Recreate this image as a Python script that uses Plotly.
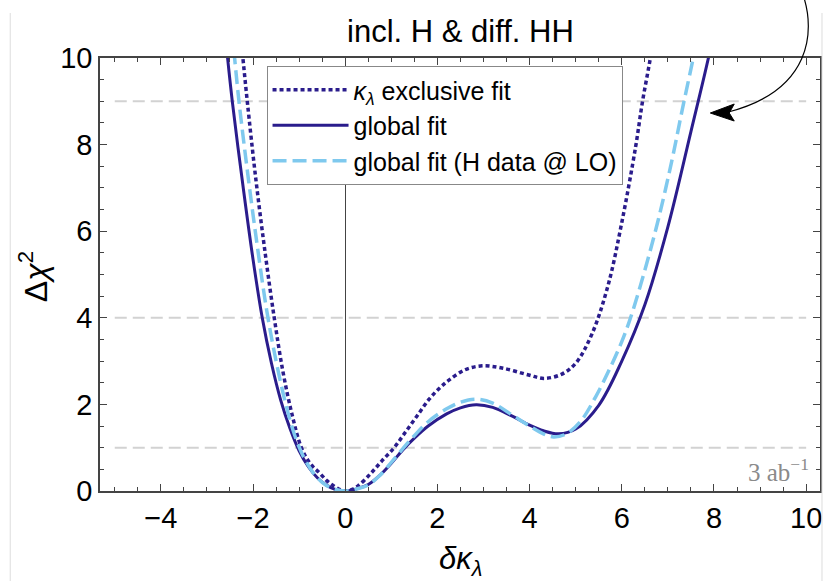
import plotly.graph_objects as go

# ---- data ----
excl_x = [-2.32, -2.22, -2.12, -1.95, -1.75, -1.54, -1.35, -1.15, -0.95, -0.75, -0.56, -0.4, -0.28, -0.15, 0.0,
          0.15, 0.28, 0.55, 0.8, 1.06, 1.3, 1.55, 1.82, 2.05, 2.25, 2.6, 2.97, 3.4, 3.98, 4.31, 4.7, 5.0,
          5.35, 5.7, 6.0, 6.3, 6.45, 6.62, 6.75]
excl_y = [11.1, 10.0, 8.95, 7.3, 5.6, 4.0, 2.75, 1.75, 1.0, 0.62, 0.42, 0.24, 0.14, 0.05, 0.0,
          0.04, 0.12, 0.4, 0.7, 1.0, 1.35, 1.72, 2.12, 2.38, 2.56, 2.8, 2.89, 2.84, 2.68, 2.6, 2.7, 2.95,
          3.62, 4.74, 6.2, 7.95, 9.0, 10.0, 10.9]

glob_x = [-2.6, -2.45, -2.2, -2.0, -1.8, -1.6, -1.4, -1.2, -1.0, -0.8, -0.6, -0.4, -0.2, 0.0,
          0.25, 0.5, 0.75, 1.0, 1.25, 1.5, 1.8, 2.2, 2.5, 2.84, 3.2, 3.6, 4.0, 4.3, 4.63, 5.0,
          5.5, 6.0, 6.5, 7.0, 7.5, 7.9, 8.05]
glob_y = [10.5, 9.0, 6.9, 5.35, 4.0, 2.95, 2.1, 1.45, 0.93, 0.56, 0.3, 0.13, 0.03, 0.0,
          0.05, 0.15, 0.36, 0.64, 0.95, 1.22, 1.5, 1.78, 1.92, 1.99, 1.93, 1.74, 1.52, 1.39, 1.32, 1.43,
          1.98, 3.0, 4.3, 6.1, 8.3, 10.1, 10.9]

lo_x = [-2.5, -2.4, -2.3, -2.1, -1.9, -1.7, -1.5, -1.3, -1.1, -0.9, -0.7, -0.5, -0.3, 0.0,
        0.25, 0.5, 0.75, 1.0, 1.25, 1.5, 1.8, 2.2, 2.5, 2.84, 3.2, 3.6, 4.0, 4.3, 4.52, 4.8, 5.1,
        5.43, 5.75, 6.0, 6.19, 6.5, 6.8, 7.1, 7.32, 7.55, 7.7]
lo_y = [11.1, 10.0, 8.95, 7.2, 5.6, 4.15, 3.0, 2.05, 1.3, 0.78, 0.43, 0.2, 0.07, 0.0,
        0.05, 0.14, 0.36, 0.66, 0.98, 1.28, 1.6, 1.9, 2.05, 2.12, 2.03, 1.77, 1.5, 1.32, 1.25, 1.32, 1.6,
        2.17, 2.85, 3.45, 4.0, 5.1, 6.3, 7.7, 8.85, 10.0, 10.8]

ref_levels = [1, 4, 9]
x_ticks = [-4, -2, 0, 2, 4, 6, 8, 10]
y_ticks = [0, 2, 4, 6, 8, 10]

NAVY = "#2a1c8c"
LBLUE = "#7fc9ee"
FONT = "Liberation Sans, Arial, sans-serif"

fig = go.Figure()
fig.add_trace(go.Scatter(x=excl_x, y=excl_y, mode="lines", name="<i>κ</i><sub><i>λ</i></sub> exclusive fit",
                         line=dict(color=NAVY, width=3.5, dash="4px,3px", shape="spline", smoothing=1.0)))
fig.add_trace(go.Scatter(x=glob_x, y=glob_y, mode="lines", name="global fit",
                         line=dict(color=NAVY, width=3, shape="spline", smoothing=1.0)))
fig.add_trace(go.Scatter(x=lo_x, y=lo_y, mode="lines", name="global fit (H data @ LO)",
                         line=dict(color=LBLUE, width=3.5, dash="14px,6px", shape="spline", smoothing=1.0)))

shapes = []
for lv in ref_levels:
    shapes.append(dict(type="line", xref="x", yref="y", x0=-5, x1=10, y0=lv, y1=lv,
                       line=dict(color="#d2d2d2", width=2, dash="12px,6px"), layer="below"))

# pixel -> paper helpers
L, R, T, B = 100, 822, 58, 491
def px(x):
    return (x - L) / (R - L)
def py(y):
    return (B - y) / (B - T)

# curved arrow
shapes.append(dict(type="path", xref="paper", yref="paper",
                   path=f"M {px(806)},{py(-2)} C {px(816)},{py(30)} {px(815)},{py(90)} {px(730)},{py(112)}",
                   line=dict(color="black", width=1.2)))
shapes.append(dict(type="path", xref="paper", yref="paper",
                   path=f"M {px(712)},{py(113)} L {px(736)},{py(104)} L {px(731)},{py(113)} L {px(736)},{py(121)} Z",
                   fillcolor="black", line=dict(color="black", width=1)))
# faint page frame lines
shapes.append(dict(type="line", xref="paper", yref="paper", x0=px(10), x1=px(10), y0=py(13), y1=py(581),
                   line=dict(color="#dddddd", width=1)))
shapes.append(dict(type="line", xref="paper", yref="paper", x0=px(824), x1=px(824), y0=py(13), y1=py(581),
                   line=dict(color="#dddddd", width=1)))

annotations = [
    dict(text="incl. H &amp; diff. HH", xref="paper", yref="paper", x=px(461), y=py(32),
         showarrow=False, font=dict(family=FONT, size=31, color="black"), xanchor="center", yanchor="middle"),
    dict(text="<i>δκ</i><sub><i>λ</i></sub>", xref="paper", yref="paper", x=px(461), y=py(561),
         showarrow=False, font=dict(family=FONT, size=31, color="black"), xanchor="center", yanchor="middle"),
    dict(text="Δ<i>χ</i><sup>2</sup>", xref="paper", yref="paper", x=px(33), y=py(277), textangle=-90,
         showarrow=False, font=dict(family=FONT, size=32, color="black"), xanchor="center", yanchor="middle"),
    dict(text="3 ab<sup>−1</sup>", xref="paper", yref="paper", x=px(813), y=py(470),
         showarrow=False, font=dict(family="Liberation Serif, Times New Roman, serif", size=25, color="#8a8a8a"),
         xanchor="right", yanchor="middle"),
]

axis_common = dict(showline=True, linecolor="#444", linewidth=1.5, mirror="allticks",
                   ticks="inside", ticklen=7, tickwidth=1.2, tickcolor="#444",
                   showgrid=False, tickfont=dict(family=FONT, size=29, color="black"))

fig.update_layout(
    width=827, height=581,
    margin=dict(l=L, r=827 - R, t=T, b=581 - B),
    paper_bgcolor="white", plot_bgcolor="white",
    shapes=shapes, annotations=annotations,
    showlegend=True,
    legend=dict(x=px(267), y=py(66), xanchor="left", yanchor="top",
                bgcolor="white", bordercolor="#888", borderwidth=1,
                font=dict(family=FONT, size=25, color="black"), itemwidth=76,
                tracegroupgap=0),
    xaxis=dict(range=[-5.32, 10.30], tickvals=x_ticks, ticktext=[str(v).replace("-", "−") for v in x_ticks],
               zeroline=True, zerolinecolor="#444", zerolinewidth=1,
               minor=dict(dtick=0.5, tick0=0, ticks="inside", ticklen=4, tickcolor="#444", tickwidth=1, showgrid=False),
               **axis_common),
    yaxis=dict(range=[0, 10], tickvals=y_ticks, zeroline=False,
               minor=dict(dtick=0.5, tick0=0, ticks="inside", ticklen=4, tickcolor="#444", tickwidth=1, showgrid=False),
               **axis_common),
)

fig.write_html("out.html")
